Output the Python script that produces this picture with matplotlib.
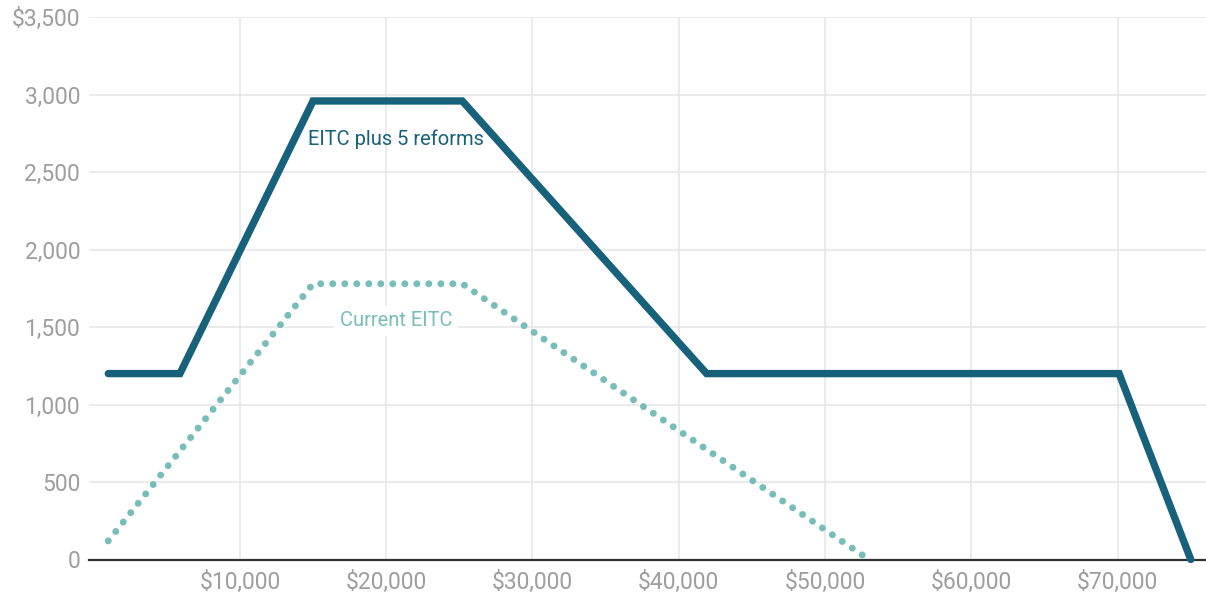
import numpy as np
import matplotlib
matplotlib.use("Agg")
import matplotlib.pyplot as plt
from matplotlib.ticker import FuncFormatter

plt.rcParams['font.family'] = ['Roboto', 'DejaVu Sans']

# income ($) and credit ($) breakpoints
reform_income = [1000, 5900, 15000, 25200, 41900, 70100, 75000]
reform_credit = [1200, 1200, 2960, 2960, 1200, 1200, 0]

current_income = [1000, 15000, 25200, 53000]
current_credit = [120, 1780, 1780, 0]

x_ticks = [10000, 20000, 30000, 40000, 50000, 60000, 70000]
y_ticks = [0, 500, 1000, 1500, 2000, 2500, 3000, 3500]

DARK = '#17627A'
LIGHT = '#77BDBA'
GRID = '#E6E6E6'
TICK = '#9E9E9E'

fig = plt.figure(figsize=(12.06, 6.01), dpi=100)
ax = fig.add_axes([88.5 / 1206, 1 - 559.5 / 601, 1 - 88.5 / 1206, (559.5 - 17.3) / 601])

ax.plot(current_income, current_credit, color=LIGHT, linewidth=5.0,
        dashes=(0.01, 1.72), dash_capstyle='round', solid_joinstyle='round',
        clip_on=False, zorder=3)
ax.plot(reform_income, reform_credit, color=DARK, linewidth=5.3,
        solid_capstyle='round', solid_joinstyle='miter', clip_on=False, zorder=4)

ax.text(20666, 2714, 'EITC plus 5 reforms', color=DARK, fontsize=14.5,
        ha='center', va='center', zorder=5)
ax.text(20666, 1540, 'Current EITC', color=LIGHT, fontsize=14.5,
        ha='center', va='center', zorder=5,
        bbox=dict(facecolor='white', edgecolor='none', pad=4))

ax.set_xlim(-350, 76040)
ax.set_ylim(0, 3500)
ax.set_xticks(x_ticks)
ax.set_yticks(y_ticks)
ax.xaxis.set_major_formatter(FuncFormatter(lambda v, p: f'${v:,.0f}'))
ax.yaxis.set_major_formatter(FuncFormatter(
    lambda v, p: f'${v:,.0f}' if v == 3500 else f'{v:,.0f}'))

ax.grid(True, color=GRID, linewidth=1.1, zorder=0)
ax.set_axisbelow(True)
for side in ['top', 'right', 'left']:
    ax.spines[side].set_visible(False)
ax.spines['bottom'].set_color('#333333')
ax.spines['bottom'].set_linewidth(1.6)
ax.spines['bottom'].set_zorder(2)
ax.tick_params(length=0, labelsize=16.5, labelcolor=TICK)
ax.tick_params(axis='y', pad=6)
ax.tick_params(axis='x', pad=8)

fig.savefig('out.png', dpi=100)
